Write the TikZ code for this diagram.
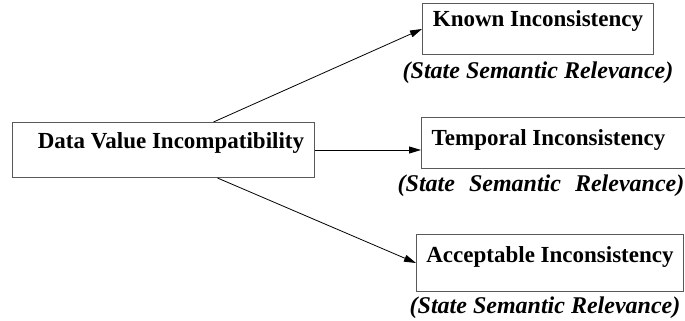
\documentclass[tikz,border=0pt]{standalone}
\usepackage{fontspec}
\setmainfont{Liberation Serif}
\usetikzlibrary{arrows.meta}

\begin{document}
\begin{tikzpicture}[x = 1pt, y = -1pt, line width = 0.8pt,
        font = \bfseries\fontsize{23}{26}\selectfont,
        kind/.style = {draw = black!65, line width = 1pt, inner sep = 0pt,
                anchor = north west},
        note/.style = {anchor = base, font = \bfseries\itshape\fontsize{24}{27}\selectfont},
        link/.style = {-{Triangle[length = 12pt, width = 7pt]}}]
                \useasboundingbox (0,0) rectangle (685,321);

                % source box
                \node [kind, minimum width = 302pt, text height = 26pt, text depth = 29pt]
                (data) at (12,122) {\hspace*{15pt}Data Value Incompatibility};

                % the three kinds of inconsistency
                \node [kind, minimum width = 231pt, text height = 23pt, text depth = 28pt]
                (known) at (422,3) {Known Inconsistency};
                \node [kind, minimum width = 269pt, text height = 28pt, text depth = 23pt]
                (temporal) at (421,117) {Temporal Inconsistency\hspace*{15pt}};
                \node [kind, minimum width = 267pt, text height = 28pt, text depth = 29pt]
                (accept) at (416,234) {Acceptable Inconsistency};

                \node [note] (knownnote) at (538,78) {(State Semantic Relevance)};
                \node [note] (temporalnote) at (541,191)
                {(State\hspace{8pt} Semantic\hspace{8pt} Relevance)};
                \node [note] (acceptnote) at (545,313) {(State Semantic Relevance)};

                \draw [link] ([xshift = 50pt]data.north) -- (known.west);
                \draw [link] (data.east) -- (data.east -| temporal.west);
                \draw [link] ([xshift = 54pt]data.south) -- (accept.west);

            \end{tikzpicture}
\end{document}
